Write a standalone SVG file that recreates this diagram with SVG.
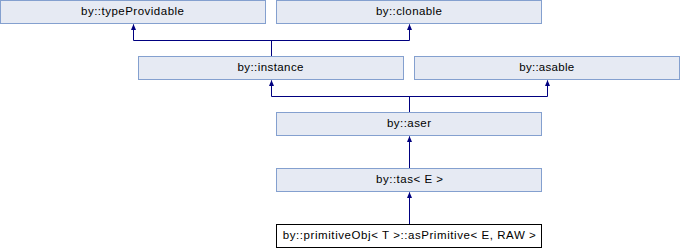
<svg xmlns="http://www.w3.org/2000/svg" width="680" height="248" viewBox="0 0 680 248">
<defs>
<style>
.box{fill:#E6EAF3;stroke:#84A0CF;stroke-width:1}
.leaf{fill:#FFFFFF;stroke:#000000;stroke-width:1}
.lbl{font-family:"Liberation Sans",Arial,sans-serif;font-size:11.5px;fill:#000000;text-anchor:middle}
.edge{fill:none;stroke:#000080;stroke-width:1}
</style>
<marker id="arr" markerWidth="6" markerHeight="7" refX="3" refY="0" orient="0" markerUnits="userSpaceOnUse" viewBox="0 0 6 7" overflow="visible">
<path d="M3,0 L5.5,6 L0.5,6 Z" fill="#000080"/>
</marker>
</defs>
<rect width="680" height="248" fill="#FFFFFF"/>
<g id="edges">
<path class="edge" d="M271.5,56 V40.5 M133.5,40.5 H409.5 M133.5,40.5 V25" />
<path class="edge" d="M409.5,40.5 V25" />
<path class="edge" d="M133.5,24.5 V24" marker-end="url(#arr)"/>
<path class="edge" d="M409.5,24.5 V24" marker-end="url(#arr)"/>
<path class="edge" d="M409.5,112 V96.5 M271.5,96.5 H547.5 M271.5,96.5 V81 M547.5,96.5 V81"/>
<path class="edge" d="M271.5,80.5 V80" marker-end="url(#arr)"/>
<path class="edge" d="M547.5,80.5 V80" marker-end="url(#arr)"/>
<path class="edge" d="M409.5,168 V137"/>
<path class="edge" d="M409.5,136.5 V136" marker-end="url(#arr)"/>
<path class="edge" d="M409.5,224 V193"/>
<path class="edge" d="M409.5,192.5 V192" marker-end="url(#arr)"/>
</g>
<g id="typeProvidable">
<rect class="box" x="0.5" y="0.5" width="265" height="23"/>
<text class="lbl" x="132.5" y="15" textLength="103" lengthAdjust="spacing">by::typeProvidable</text>
</g>
<g id="clonable">
<rect class="box" x="276.5" y="0.5" width="265" height="23"/>
<text class="lbl" x="409" y="15" textLength="66" lengthAdjust="spacing">by::clonable</text>
</g>
<g id="instance">
<rect class="box" x="138.5" y="56.5" width="265" height="23"/>
<text class="lbl" x="270.5" y="71" textLength="66" lengthAdjust="spacing">by::instance</text>
</g>
<g id="asable">
<rect class="box" x="414.5" y="56.5" width="265" height="23"/>
<text class="lbl" x="546.7" y="71" textLength="55" lengthAdjust="spacing">by::asable</text>
</g>
<g id="aser">
<rect class="box" x="276.5" y="112.5" width="265" height="23"/>
<text class="lbl" x="409" y="127" textLength="44" lengthAdjust="spacing">by::aser</text>
</g>
<g id="tas">
<rect class="box" x="276.5" y="168.5" width="265" height="23"/>
<text class="lbl" x="409.5" y="183" textLength="67" lengthAdjust="spacing">by::tas&lt; E &gt;</text>
</g>
<g id="asPrimitive">
<rect class="leaf" x="276.5" y="224.5" width="265" height="23"/>
<text class="lbl" x="409.3" y="239" textLength="253" lengthAdjust="spacing">by::primitiveObj&lt; T &gt;::asPrimitive&lt; E, RAW &gt;</text>
</g>
</svg>
